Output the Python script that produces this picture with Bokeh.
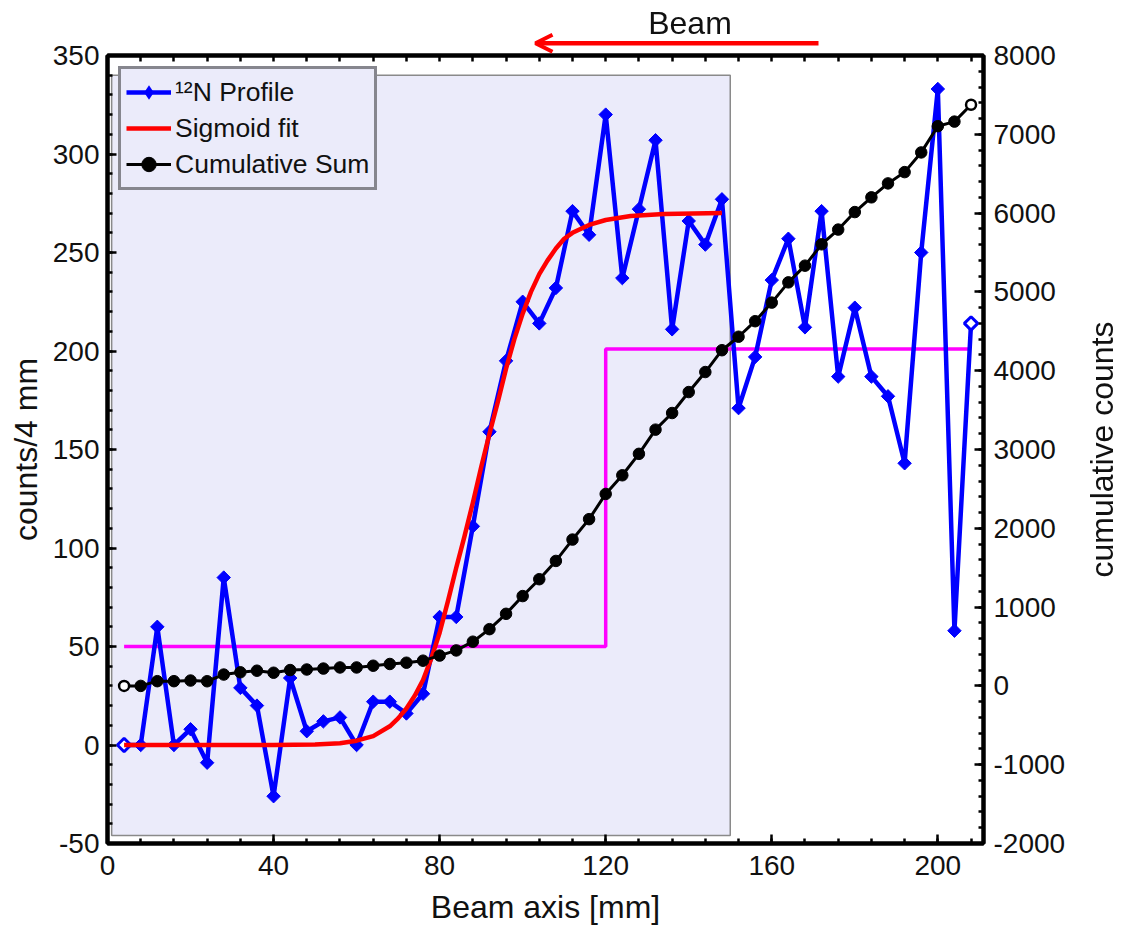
import math
import numpy as np
from bokeh.plotting import figure
from bokeh.models import (Range1d, LinearAxis, FixedTicker, Legend, LegendItem,
                          Label, Arrow, OpenHead, CustomJSTickFormatter)
from bokeh.embed import file_html
from bokeh.resources import INLINE

# ---- data -------------------------------------------------------------
position_mm = [4, 8, 12, 16, 20, 24, 28, 32, 36, 40, 44, 48, 52, 56, 60, 64,
               68, 72, 76, 80, 84, 88, 92, 96, 100, 104, 108, 112, 116, 120,
               124, 128, 132, 136, 140, 144, 148, 152, 156, 160, 164, 168,
               172, 176, 180, 184, 188, 192, 196, 200, 204, 208]
counts = [0, 0, 60, 0, 8, -9, 85, 29, 20, -26, 34, 7, 12, 14, 0, 22,
          22, 16, 26, 65, 65, 111, 159, 195, 225, 214, 232, 271, 259, 320,
          237, 272, 307, 211, 266, 254, 277, 171, 197, 236, 257, 212,
          271, 187, 222, 187, 177, 143, 250, 333, 58, 214]

# sigmoid fit curve (counts/4 mm)
fit_mm = [4, 20, 40, 50, 56, 60, 64, 68, 70, 72, 74, 76, 78, 80, 82, 84, 86,
          88, 90, 92, 94, 96, 98, 100, 102, 104, 106, 108, 110, 112, 116,
          120, 126, 134, 148]
fit_counts = [0, 0, 0, 0.2, 0.9, 2.2, 4.5, 9.5, 13.5, 18.5, 25, 33, 44, 57,
              73, 90, 106, 123, 141, 158, 174, 191, 206, 219, 230, 239, 246,
              252, 257, 260, 264, 266.5, 268.5, 269.5, 270]

# two-level step (mean level before / after 120 mm)
step_mm = [4, 120, 120, 208]
step_counts = [50, 50, 201, 201]

# shaded region of interest
roi_mm = [1, 150]
roi_counts = [-46, 340]

x_ticks = [0, 40, 80, 120, 160, 200]
left_ticks = [-50, 0, 50, 100, 150, 200, 250, 300, 350]
right_ticks = [-2000, -1000, 0, 1000, 2000, 3000, 4000, 5000, 6000, 7000, 8000]

cumulative = np.cumsum(counts)

# ---- styling ----------------------------------------------------------
FONT = "Liberation Sans"
SHADE = "#EBEBFA"
TXT = "#111111"
W, H = 1125, 933

p = figure(width=W, height=H, x_range=Range1d(0, 211),
           y_range=Range1d(-50, 350), output_backend="svg",
           toolbar_location=None, min_border_left=107, min_border_right=142,
           min_border_top=55, min_border_bottom=90)
p.extra_y_ranges = {"cum": Range1d(-2000, 8000)}
p.grid.visible = False
p.background_fill_color = "white"
p.border_fill_color = "white"
p.outline_line_color = "black"
p.outline_line_width = 4

plain = CustomJSTickFormatter(code="return tick.toFixed(0)")


def style_axis(ax, major, minor):
    ax.ticker = FixedTicker(ticks=major, minor_ticks=minor)
    ax.formatter = plain
    ax.axis_line_color = "black"
    ax.axis_line_width = 4
    ax.major_tick_in = 9
    ax.major_tick_out = 0
    ax.minor_tick_in = 5
    ax.minor_tick_out = 0
    ax.major_tick_line_width = 2.5
    ax.minor_tick_line_width = 2.5
    ax.major_tick_line_color = "black"
    ax.minor_tick_line_color = "black"
    ax.major_label_text_font = FONT
    ax.major_label_text_color = TXT
    ax.major_label_text_font_size = "28px"
    ax.major_label_standoff = 10
    ax.axis_label_text_font = FONT
    ax.axis_label_text_font_size = "32px"
    ax.axis_label_text_font_style = "normal"
    ax.axis_label_text_color = TXT


x_minor = list(range(0, 212, 8))
left_minor = list(range(-50, 351, 10))
right_minor = list(range(-2000, 8001, 200))

xb = p.xaxis[0]
style_axis(xb, x_ticks, x_minor)
xb.axis_label = "Beam axis [mm]"
xb.major_label_standoff = 12
xb.axis_label_standoff = 11

yl = p.yaxis[0]
style_axis(yl, left_ticks, left_minor)
yl.axis_label = "counts/4 mm"
yl.major_label_standoff = 8
yl.axis_label_standoff = 6

# top edge: tick marks only
xt = LinearAxis()
style_axis(xt, [], x_minor)
xt.minor_tick_in = 6
xt.major_label_standoff = 0
p.add_layout(xt, "above")

yr = LinearAxis(y_range_name="cum")
style_axis(yr, right_ticks, right_minor)
yr.major_label_standoff = 10
p.add_layout(yr, "right")

# ---- glyphs -----------------------------------------------------------
p.quad(left=[roi_mm[0]], right=[roi_mm[1]], bottom=[roi_counts[0]],
       top=[roi_counts[1]], fill_color=SHADE, line_color="#8a8a8a",
       line_width=1.5)

p.line(step_mm, step_counts, line_color="#FF00FF", line_width=3.5)

blue_line = p.line(position_mm, counts, line_color="#0000FF", line_width=4.5,
                   line_join="round")
p.scatter(position_mm[1:-1], counts[1:-1], marker="square",
          angle=math.pi / 4, size=9.5, fill_color="#0000FF",
          line_color="#0000FF", line_width=1)
p.scatter([position_mm[0], position_mm[-1]], [counts[0], counts[-1]],
          marker="square", angle=math.pi / 4, size=9.5, fill_color="white",
          line_color="#0000FF", line_width=3)
# zero-size diamonds: only used as the legend swatch
blue_key = p.scatter(position_mm, counts, marker="diamond", size=0,
                     fill_color="#0000FF", line_color="#0000FF",
                     line_alpha=0)

red_line = p.line(fit_mm, fit_counts, line_color="#FF0000", line_width=4.5,
                  line_join="round")

black_line = p.line(position_mm, cumulative, y_range_name="cum",
                    line_color="black", line_width=3)
black_pts = p.scatter(position_mm[1:-1], cumulative[1:-1], y_range_name="cum",
                      marker="circle", size=11.5, fill_color="black",
                      line_color="black", line_width=1)
p.scatter([position_mm[0], position_mm[-1]],
          [cumulative[0], cumulative[-1]], y_range_name="cum",
          marker="circle", size=10, fill_color="white", line_color="black",
          line_width=2.5)

# ---- legend -----------------------------------------------------------
legend = Legend(items=[
    LegendItem(label="\u00b9\u00b2N Profile", renderers=[blue_line, blue_key]),
    LegendItem(label="Sigmoid fit", renderers=[red_line]),
    LegendItem(label="Cumulative Sum", renderers=[black_line, black_pts]),
], location="top_left")
legend.margin = 11
legend.padding = 5
legend.spacing = 0
legend.glyph_width = 45
legend.glyph_height = 36
legend.label_standoff = 4
legend.label_text_font = FONT
legend.label_text_font_size = "26.5px"
legend.label_text_color = TXT
legend.border_line_color = "#222222"
legend.border_line_width = 3
legend.background_fill_color = SHADE
legend.background_fill_alpha = 1.0
p.add_layout(legend)

# ---- transparent page-sized layer for the texts and arrow that sit
# ---- outside the axes box (coordinates in page pixels, y downwards)
over = figure(width=W, height=H, x_range=Range1d(0, W), y_range=Range1d(H, 0),
              x_axis_location=None, y_axis_location=None,
              output_backend="svg", toolbar_location=None, min_border=0)
over.grid.visible = False
over.outline_line_color = None
over.background_fill_alpha = 0
over.border_fill_alpha = 0
over.styles = {"position": "fixed", "top": "0px", "left": "0px",
               "z-index": "10", "pointer-events": "none"}

over.add_layout(Label(x=689.5, y=22.5, text="Beam", text_align="center",
                      text_baseline="middle", text_font=FONT,
                      text_font_size="32px", text_color=TXT))
over.add_layout(Label(x=1101, y=449, text="cumulative counts", angle=math.pi / 2,
                      text_align="center", text_baseline="middle",
                      text_font=FONT, text_font_size="32px", text_color=TXT))
over.add_layout(Arrow(end=OpenHead(size=17, line_color="#FF0000",
                                   line_width=4),
                      x_start=818, y_start=42.7, x_end=535, y_end=42.7,
                      line_color="#FF0000", line_width=4.5))

open("out.html", "w").write(file_html([p, over], INLINE))
